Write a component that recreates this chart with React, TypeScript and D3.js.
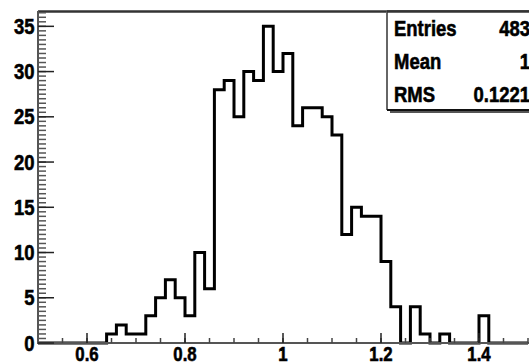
import React from "react";
import * as d3 from "d3";

// Histogram: 50 bins of width 0.02 from 0.5 to 1.5
const binLow = 0.5;
const binWidth = 0.02;
const counts = [
  0, 0, 0, 0, 0, 0, 0, 1, 2, 1,
  1, 3, 5, 7, 5, 3, 10, 6, 28, 29,
  25, 30, 29, 35, 30, 32, 24, 26, 26, 25,
  23, 12, 15, 14, 14, 9, 4, 0, 4, 1,
  0, 1, 0, 0, 0, 3, 0, 0, 0, 0,
];
const xTicks = [0.6, 0.8, 1.0, 1.2, 1.4];
const xTickLabels = ["0.6", "0.8", "1", "1.2", "1.4"];
const yTicks = [0, 5, 10, 15, 20, 25, 30, 35];
const statNames = ["Entries", "Mean", "RMS"];
const statValues = ["483", "1", "0.1221"];

const W = 529;
const H = 364;
const FONT = "'Liberation Sans', Arial, Helvetica, sans-serif";
const SX = 0.84;

function CText({ x, y, anchor = "start", size = 22, children }: any) {
  return (
    <text
      transform={`translate(${x},${y}) scale(${SX},1)`}
      textAnchor={anchor}
      fontFamily={FONT}
      fontWeight="bold"
      fontSize={size}
      fill="#000"
      stroke="#000"
      strokeWidth={0.6}
    >
      {children}
    </text>
  );
}

export default function App() {
  const x = d3.scaleLinear().domain([0.5, 1.5]).range([38, 528]);
  const y = d3.scaleLinear().domain([0, 36.75]).range([343, 10.5]);

  const pts: [number, number][] = counts.map((c, i) => [binLow + i * binWidth, c]);
  pts.push([binLow + counts.length * binWidth, counts[counts.length - 1]]);
  const line = d3
    .line<[number, number]>()
    .x((d) => x(d[0]))
    .y((d) => y(d[1]))
    .curve(d3.curveStepAfter);
  const path = line(pts) || "";

  const xMinor = d3.range(0.5, 1.5001, 0.05);
  const yMinor = d3.range(0, 36.75, 0.5);

  const boxX = 387;
  const boxTop = 11.5;
  const boxBottom = 110;

  return (
    <svg
      width={W}
      height={H}
      style={{ position: "absolute", left: 0, top: 0, background: "#fff" }}
    >
      <rect x={0} y={0} width={W} height={H} fill="#fff" />

      {/* frame top */}
      <line x1={x(0.5)} x2={W + 5} y1={11.5} y2={11.5} stroke="#333" strokeWidth={2.5} />

      {/* histogram outline */}
      <path d={path} fill="none" stroke="#000" strokeWidth={3} strokeLinejoin="miter" />

      {/* x axis */}
      <line x1={x(0.5)} x2={W + 5} y1={y(0)} y2={y(0)} stroke="#555" strokeWidth={2} />
      {xMinor.map((v, i) => (
        <line key={"xm" + i} x1={x(v)} x2={x(v)} y1={y(0)} y2={y(0) - 5} stroke="#444" strokeWidth={1.5} />
      ))}
      {xTicks.map((v, i) => (
        <line key={"xM" + i} x1={x(v)} x2={x(v)} y1={y(0)} y2={y(0) - 10} stroke="#222" strokeWidth={1.5} />
      ))}
      {xTicks.map((v, i) => (
        <CText key={"xl" + i} x={x(v)} y={361} anchor="middle" size={20}>
          {xTickLabels[i]}
        </CText>
      ))}

      {/* y axis */}
      <line x1={x(0.5)} x2={x(0.5)} y1={11} y2={y(0) + 1} stroke="#555" strokeWidth={2} />
      {yMinor.map((v, i) => (
        <line key={"ym" + i} x1={x(0.5)} x2={x(0.5) + 8} y1={y(v)} y2={y(v)} stroke="#555" strokeWidth={1.5} />
      ))}
      {yTicks.map((v, i) => (
        <line key={"yM" + i} x1={x(0.5)} x2={x(0.5) + 16} y1={y(v)} y2={y(v)} stroke="#222" strokeWidth={1.5} />
      ))}
      {yTicks.map((v, i) => (
        <CText key={"yl" + i} x={34.5} y={y(v) + 7.5} anchor="end">
          {String(v)}
        </CText>
      ))}

      {/* statistics box */}
      <rect x={boxX + 3} y={boxTop + 3} width={W} height={boxBottom - boxTop} fill="#555" />
      <rect x={boxX} y={boxTop} width={W} height={boxBottom - boxTop} fill="#fff" />
      <line x1={boxX} x2={boxX} y1={boxTop} y2={boxBottom} stroke="#666" strokeWidth={2} />
      <line x1={boxX} x2={W + 5} y1={boxBottom} y2={boxBottom} stroke="#111" strokeWidth={2} />
      <line x1={boxX} x2={W + 5} y1={boxTop} y2={boxTop} stroke="#333" strokeWidth={2.5} />
      {statNames.map((n, i) => (
        <CText key={"sn" + i} x={394} y={35.5 + i * 33.2}>
          {n}
        </CText>
      ))}
      {statValues.map((v, i) => (
        <CText key={"sv" + i} x={530} y={35.5 + i * 33.2} anchor="end">
          {v}
        </CText>
      ))}
    </svg>
  );
}
